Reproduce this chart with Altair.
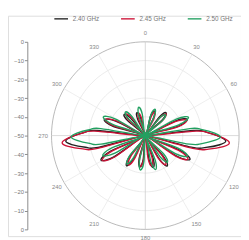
import altair as alt
import pandas as pd

series_names = ["2.40 GHz", "2.45 GHz", "2.50 GHz"]
series_colors = ["#222222", "#cc1236", "#22a060"]

# gain pattern (dB) read at key angles (deg, clockwise from top)
ang_240 = [0, 15, 20, 25, 31, 37, 42, 47, 56, 64, 69, 74, 81, 84, 87, 91, 94, 97, 101, 104, 107,
           113, 118, 123, 131, 139, 144, 149, 155, 161, 166, 171, 178, 185, 190, 195, 201,
           207, 212, 217, 227, 236, 241, 246, 253, 256, 259, 263, 266, 269, 273, 276, 279,
           286, 291, 296, 303, 310, 315, 320, 328, 335, 340, 345]
db_240 = [-50, -39.5, -36, -39.5, -50, -37.5, -33.5, -37.5, -50, -32, -26, -32, -50, -24, -17, -10, -7, -10, -17, -24, -50,
          -29.8, -23, -29.8, -50, -35, -30, -35, -50, -36.9, -32.5, -36.9, -50, -37.3, -33, -37.3, -50,
          -35.8, -31, -35.8, -50, -29.8, -23, -29.8, -50, -24, -17.5, -10.5, -7.5, -10.5, -17.5, -24, -50,
          -32.4, -26.5, -32.4, -50, -38, -34, -38, -50, -40.3, -37, -40.3]

ang_245 = [2, 17, 22, 27, 33, 39, 44, 49, 57, 65, 70, 75, 82, 85, 88, 92, 95, 98, 102, 105, 108,
           114, 119, 124, 132, 140, 145, 150, 157, 163, 168, 173, 179, 184, 189, 194, 200,
           205, 210, 215, 225, 235, 240, 245, 252, 255, 258, 262, 265, 268, 272, 275, 278,
           287, 292, 297, 305, 313, 318, 323, 331, 338, 343, 348]
db_245 = [-50, -39.9, -36.5, -39.9, -50, -38, -34, -38, -50, -32.4, -26.5, -32.4, -50, -23, -15.5, -8, -5, -8, -15.5, -23, -50,
          -30.5, -24, -30.5, -50, -35.8, -31, -35.8, -50, -37.6, -33.5, -37.6, -50, -37.6, -33.5, -37.6, -50,
          -36.5, -32, -36.5, -50, -30.1, -23.5, -30.1, -50, -23, -16, -8.5, -5.5, -8.5, -16, -23, -50,
          -32.8, -27, -32.8, -50, -38.4, -34.5, -38.4, -50, -40.6, -37.5, -40.6]

ang_250 = [4, 15, 20, 25, 32, 39, 44, 49, 56, 62, 67, 72, 78, 81, 84, 88, 91, 94, 98, 101, 104,
           111, 116, 121, 128, 135, 140, 145, 152, 158, 163, 168, 176, 183, 188, 193, 200,
           208, 213, 218, 229, 240, 245, 250, 256, 259, 262, 266, 269, 272, 276, 279, 282,
           289, 294, 299, 307, 315, 320, 325, 333, 342, 347, 352]
db_250 = [-50, -38.8, -35, -38.8, -50, -38.4, -34.5, -38.4, -50, -31.3, -25, -31.3, -50, -26, -19.5, -13, -10, -13, -19.5, -26, -50,
          -31.3, -25, -31.3, -50, -36.1, -31.5, -36.1, -50, -35.8, -31, -35.8, -50, -36.1, -31.5, -36.1, -50,
          -36.5, -32, -36.5, -50, -31.3, -25, -31.3, -50, -26, -20, -13.5, -10.5, -13.5, -20, -26, -50,
          -31.6, -25.5, -31.6, -50, -37.6, -33.5, -37.6, -50, -38.4, -34.5, -38.4]

radial_db_ticks = [0, -10, -20, -30, -40, -50]
spoke_angles = list(range(0, 360, 30))
angle_labels = [0, 30, 60, 120, 150, 180, 210, 240, 270, 300, 330]
DB_MIN = -50

# ---- layout (pixels inside the view) ----
CX, CY, R = 142, 124, 97
W, H = 241, 228

rows = []
for name, angs, dbs in zip(series_names, [ang_240, ang_245, ang_250], [db_240, db_245, db_250]):
    for a, d in zip(angs, dbs):
        rows.append({"series": name, "angle": a, "db": d})
pat = pd.DataFrame(rows)

xs = alt.Scale(domain=[-1, 1], range=[CX - R, CX + R])
ys = alt.Scale(domain=[-1, 1], range=[CY + R, CY - R])

tick_vals = [round(-1 + 0.2 * i, 1) for i in range(11)]
yaxis = alt.Axis(values=tick_vals, labelExpr=f"format({DB_MIN} + {-DB_MIN}*abs(datum.value), 'd')",
                 offset=-20, grid=False, title=None, labelFontSize=6, labelColor="#777",
                 tickColor="#888", domainColor="#888", tickSize=3, labelPadding=1, labelFont="Arial")

X = lambda f: alt.X(f, type="quantitative", scale=xs, axis=None)
Y = lambda f: alt.Y(f, type="quantitative", scale=ys, axis=yaxis)

# grid rings
ring_rows = []
for db in radial_db_ticks[:-1]:
    r = (db - DB_MIN) / (-DB_MIN)
    for t in range(0, 361, 3):
        ring_rows.append({"ring": db, "t": t, "r": r})
rings = pd.DataFrame(ring_rows)

ring_layer = alt.Chart(rings).transform_calculate(
    x="datum.r*sin(datum.t*PI/180)", y="datum.r*cos(datum.t*PI/180)"
).mark_line(strokeWidth=0.7).encode(
    x=X("x"), y=Y("y"), detail="ring:N", order="t:Q",
    color=alt.condition("datum.ring == 0", alt.value("#999999"), alt.value("#e2e2e2")),
)

spokes = pd.DataFrame({"a": spoke_angles})
spoke_layer = alt.Chart(spokes).transform_calculate(
    x0="0", y0="0", x1="sin(datum.a*PI/180)", y1="cos(datum.a*PI/180)"
).mark_rule(strokeWidth=0.7).encode(
    x=X("x0"), y=Y("y0"), x2="x1:Q", y2="y1:Q",
    color=alt.condition("datum.a % 90 == 0", alt.value("#c8c8c8"), alt.value("#e6e6e6")),
)

labs = pd.DataFrame({"a": angle_labels})
lab_layer = alt.Chart(labs).transform_calculate(
    x="1.09*sin(datum.a*PI/180)", y="1.09*cos(datum.a*PI/180)", txt="''+datum.a"
).mark_text(fontSize=6, color="#888", font="Arial").encode(x=X("x"), y=Y("y"), text="txt:N")

line_layer = alt.Chart(pat).transform_calculate(
    r=f"max(0, (datum.db - ({DB_MIN}))/({-DB_MIN}))"
).transform_calculate(
    x="datum.r*sin(datum.angle*PI/180)", y="datum.r*cos(datum.angle*PI/180)"
).mark_line(interpolate="cardinal-closed", strokeWidth=1.4).encode(
    x=X("x"), y=Y("y"), order="angle:Q",
    color=alt.Color("series:N", scale=alt.Scale(domain=series_names, range=series_colors),
                    legend=alt.Legend(orient="none", legendX=47, legendY=-5, direction="horizontal",
                                      title=None, symbolType="stroke", symbolStrokeWidth=1.4,
                                      symbolSize=200, labelFontSize=6.5, labelColor="#777",
                                      columnPadding=19, labelFont="Arial")),
)

chart = alt.layer(ring_layer, spoke_layer, lab_layer, line_layer).properties(
    width=W, height=H, padding={"left": 0, "top": 4, "right": 0, "bottom": 0},
    autosize=alt.AutoSizeParams(type="none"),
).configure_view(stroke=None).configure(background="white")

chart.save("out.html", embed_options={"renderer": "svg", "actions": False})
